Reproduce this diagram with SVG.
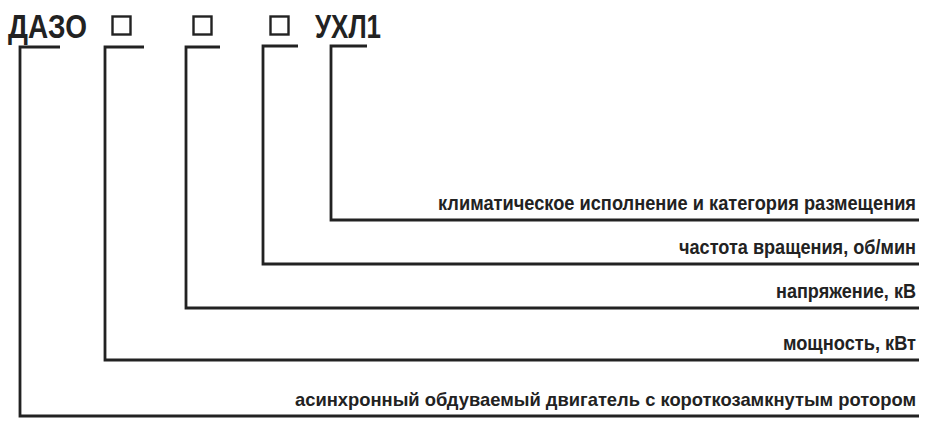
<svg xmlns="http://www.w3.org/2000/svg" width="952" height="446" viewBox="0 0 952 446">
<style>
.t{font-family:"Liberation Sans",Arial,sans-serif;font-weight:bold;fill:#222}
.h{font-size:34px}
.l{font-size:19.5px;text-anchor:end}
.sq{fill:none;stroke:#222;stroke-width:2.4}
.c{fill:none;stroke:#222;stroke-width:2.8;stroke-linejoin:miter}
</style>
<rect width="952" height="446" fill="#fff"/>
<g id="code">
<text class="t h" x="8" y="38" textLength="79" lengthAdjust="spacingAndGlyphs">ДАЗО</text>
<rect class="sq" x="112.5" y="16.5" width="18" height="18"/>
<rect class="sq" x="193.5" y="16.5" width="18" height="18"/>
<rect class="sq" x="270.5" y="16.5" width="18" height="18"/>
<text class="t h" x="315" y="37.5" textLength="66" lengthAdjust="spacingAndGlyphs">УХЛ1</text>
</g>
<g id="connectors">
<path class="c" d="M60,47 H20 V416 H919"/>
<path class="c" d="M144,47 H105 V360 H919"/>
<path class="c" d="M220,47 H186 V308 H919"/>
<path class="c" d="M298,46 H263 V264 H919"/>
<path class="c" d="M367,46 H331 V220 H919"/>
</g>
<g id="labels">
<text class="t l" x="916" y="210" textLength="478" lengthAdjust="spacingAndGlyphs">климатическое исполнение и категория размещения</text>
<text class="t l" x="916" y="254" textLength="237" lengthAdjust="spacingAndGlyphs">частота вращения, об/мин</text>
<text class="t l" x="916" y="298" textLength="140" lengthAdjust="spacingAndGlyphs">напряжение, кВ</text>
<text class="t l" x="916" y="350" textLength="133" lengthAdjust="spacingAndGlyphs">мощность, кВт</text>
<text class="t l" x="916" y="406" style="font-size:19px" textLength="621" lengthAdjust="spacingAndGlyphs">асинхронный обдуваемый двигатель с короткозамкнутым ротором</text>
</g>
</svg>
